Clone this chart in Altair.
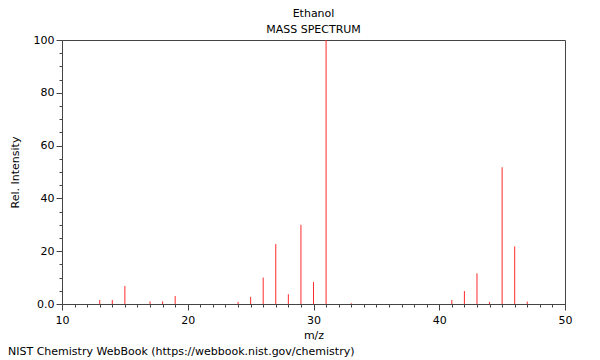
import altair as alt
import pandas as pd

# m/z values and relative intensities
mz = [13, 14, 15, 17, 18, 19, 24, 25, 26, 27, 28, 29, 30, 31, 33,
      41, 42, 43, 44, 45, 46, 47]
intensity = [1.5, 1.5, 6.8, 1.0, 1.0, 3.0, 0.8, 2.7, 10.0, 22.7, 3.7, 30.0, 8.3, 100.0, 0.3,
             1.5, 4.9, 11.6, 0.8, 51.8, 21.8, 0.9]

x_ticks = list(range(10, 51))
y_ticks = list(range(0, 101, 5))

title_lines = ["Ethanol", "MASS SPECTRUM"]
footer = "NIST Chemistry WebBook (https://webbook.nist.gov/chemistry)"

FONT = "DejaVu Sans"
W, H = 503, 264

df = pd.DataFrame({"mz": mz, "intensity": intensity, "base": [0] * len(mz)})

rules = alt.Chart(df).mark_rule(color="#ff2a2a", strokeWidth=1).encode(
    x=alt.X("mz:Q",
            scale=alt.Scale(domain=[10, 50], nice=False, zero=False),
            axis=alt.Axis(
                values=x_ticks,
                labelExpr="datum.value % 10 == 0 ? datum.label : ''",
                tickSize={"condition": {"test": "datum.value % 10 == 0", "value": 6}, "value": 3},
                labelPadding=4,
                labelFlush=False,
                title="m/z",
                titlePadding=4,
                grid=False,
            )),
    y=alt.Y("intensity:Q",
            scale=alt.Scale(domain=[0, 100], nice=False),
            axis=alt.Axis(
                values=y_ticks,
                labelExpr="datum.value == 0 ? '0.0' : (datum.value % 20 == 0 ? datum.label : '')",
                tickSize={"condition": {"test": "datum.value % 20 == 0", "value": 6}, "value": 3},
                labelPadding=2,
                labelFlush=False,
                title="Rel. Intensity",
                titlePadding=13,
                grid=False,
            )),
    y2="base:Q",
)

titles = alt.Chart(pd.DataFrame({"t": title_lines, "yy": [-26, -10]})).mark_text(
    align="center", baseline="middle", fontSize=11, font=FONT, color="#000"
).encode(text="t:N", x=alt.value(W / 2), y=alt.Y("yy:Q", scale=None))

foot = alt.Chart(pd.DataFrame({"t": [footer]})).mark_text(
    align="left", baseline="middle", fontSize=11, font=FONT, color="#000"
).encode(text="t:N", x=alt.value(-54), y=alt.value(312))

chart = alt.layer(rules, titles, foot).properties(
    width=W, height=H,
    autosize=alt.AutoSizeParams(type="none"),
    padding={"left": 54, "top": 32, "right": 27, "bottom": 56},
).configure_view(stroke="#444", strokeWidth=1).configure_axis(
    domainColor="#444", tickColor="#444", domainWidth=1, tickWidth=1,
    labelFont=FONT, titleFont=FONT, labelFontSize=11, titleFontSize=11,
    titleFontWeight="normal", labelColor="#000", titleColor="#000",
)

chart.save("out.html", embed_options={"renderer": "svg", "actions": False})
